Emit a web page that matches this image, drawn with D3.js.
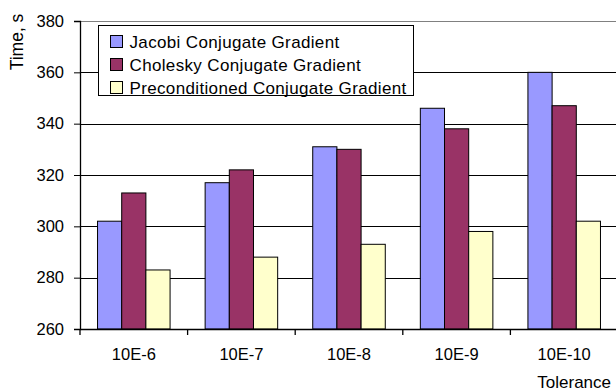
<!DOCTYPE html>
<html>
<head>
<meta charset="utf-8">
<script src="https://cdn.jsdelivr.net/npm/d3@7"></script>
<style>
  body { margin: 0; background: #fff; }
  text { font-family: "Liberation Sans", Arial, sans-serif; fill: #000; }
</style>
</head>
<body>
<div id="chart"></div>
<script>
// Tolerance categories and solve times (s)
const categories = ["10E-6", "10E-7", "10E-8", "10E-9", "10E-10"];
const seriesNames = ["Jacobi Conjugate Gradient", "Cholesky Conjugate Gradient", "Preconditioned Conjugate Gradient"];
const jacobi = [302, 317, 331, 346, 360];
const cholesky = [313, 322, 330, 338, 347];
const precond = [283, 288, 293, 298, 302];
const yTicks = [260, 280, 300, 320, 340, 360, 380];

const colors = ["#9999ff", "#993366", "#ffffcc"];
const allSeries = [jacobi, cholesky, precond];

const W = 616, H = 392;
const margin = { top: 21, right: -2, bottom: 63, left: 80 },
    width = W - margin.left - margin.right,
    height = H - margin.top - margin.bottom;

const svg = d3.select("#chart").append("svg")
    .attr("width", W)
    .attr("height", H);

const g = svg.append("g")
    .attr("transform", "translate(" + margin.left + "," + margin.top + ")");

const x = d3.scaleBand()
    .domain(categories)
    .range([0, width])
    .padding(0);

const gap = 1.45; // gap between groups, in bar widths
const x1 = d3.scaleBand()
    .domain(d3.range(3))
    .range([0, x.bandwidth() * 3 / (3 + gap)]);
const groupOffset = x.bandwidth() * (gap / 2) / (3 + gap);

const y = d3.scaleLinear()
    .domain([260, 380])
    .range([height, 0]);

// gridlines
g.selectAll(".grid")
    .data(yTicks.filter(d => d > 260))
    .enter().append("line")
    .attr("x1", 0)
    .attr("x2", width)
    .attr("y1", d => Math.round(y(d)) + 0.5)
    .attr("y2", d => Math.round(y(d)) + 0.5)
    .attr("stroke", d => d === 380 ? "#808080" : "#000")
    .attr("stroke-width", 1);

// bars
const groups = g.selectAll(".group")
    .data(categories)
    .enter().append("g")
    .attr("transform", d => "translate(" + (x(d) + groupOffset) + ",0)");

groups.selectAll("rect")
    .data((d, i) => allSeries.map((s, k) => ({ k: k, v: s[i] })))
    .enter().append("rect")
    .attr("x", d => x1(d.k))
    .attr("width", x1.bandwidth())
    .attr("y", d => y(d.v))
    .attr("height", d => y(260) - y(d.v))
    .attr("fill", d => colors[d.k])
    .attr("stroke", "#000")
    .attr("stroke-width", 1);

// y axis
const yAxis = g.append("g")
    .call(d3.axisLeft(y).tickValues(yTicks).tickSize(6).tickPadding(10));
yAxis.select(".domain").attr("stroke", "#000").attr("stroke-width", 1.3);
yAxis.selectAll("text").style("font-size", "16.5px");

// x axis
const xAxis = g.append("g")
    .attr("transform", "translate(0," + height + ")")
    .call(d3.axisBottom(x).tickSize(0).tickPadding(19));
xAxis.select(".domain").attr("stroke", "#000").attr("stroke-width", 1.3);
xAxis.selectAll("text").style("font-size", "16.5px");

// category boundary ticks
g.selectAll(".xtick")
    .data(categories)
    .enter().append("line")
    .attr("x1", d => x(d))
    .attr("x2", d => x(d))
    .attr("y1", height)
    .attr("y2", height + 6)
    .attr("stroke", "#000")
    .attr("stroke-width", 1.3);

// axis titles
svg.append("text")
    .attr("transform", "translate(23,42) rotate(-90)")
    .attr("text-anchor", "middle")
    .style("font-size", "17.5px")
    .text("Time, s");

svg.append("text")
    .attr("x", 611)
    .attr("y", 388)
    .attr("text-anchor", "end")
    .style("font-size", "17px")
    .text("Tolerance");

// legend
const legend = svg.append("g").attr("transform", "translate(98.5,25.5)");
legend.append("rect")
    .attr("width", 315)
    .attr("height", 70)
    .attr("fill", "#fff")
    .attr("stroke", "#000");

const items = legend.selectAll(".item")
    .data(seriesNames)
    .enter().append("g")
    .attr("transform", (d, i) => "translate(12," + (10 + i * 23) + ")");

items.append("rect")
    .attr("width", 12)
    .attr("height", 12)
    .attr("fill", (d, i) => colors[i])
    .attr("stroke", "#000");

items.append("text")
    .attr("x", 19)
    .attr("y", 12)
    .style("font-size", "17px")
    .style("letter-spacing", "0.35px")
    .text(d => d);
</script>
</body>
</html>
